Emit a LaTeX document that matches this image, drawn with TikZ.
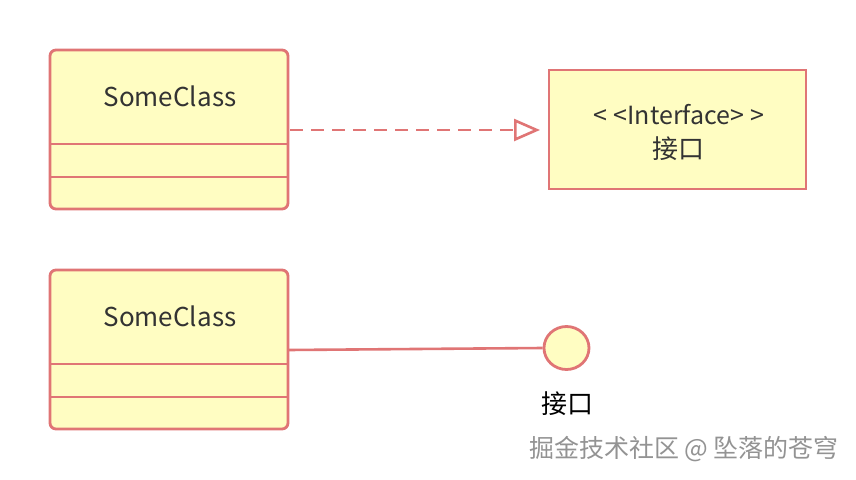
\documentclass[tikz,border=0pt]{standalone}
\usepackage{fontspec}
\setmainfont{Noto Sans CJK SC}
\usetikzlibrary{arrows.meta,shapes.geometric}
\definecolor{edge}{HTML}{E07575}
\definecolor{boxfill}{HTML}{FFFDC2}
\definecolor{txt}{HTML}{333333}
\begin{document}
\begin{tikzpicture}[x=1pt,y=-1pt,
  classbox/.style={draw=edge,fill=boxfill,line width=2.8pt,rounded corners=6pt},
  ifacebox/.style={draw=edge,fill=boxfill,line width=2.8pt},
  divider/.style={draw=edge,line width=2.6pt},
  conn/.style={draw=edge,line width=2.6pt},
  lbl/.style={font=\fontsize{26}{30}\selectfont,text=txt,inner sep=0pt}]
\useasboundingbox (0,0) rectangle (856,479);
\fill[white] (0,0) rectangle (856,479);
% class 1
\path[classbox] (50,50) rectangle (288,209);
\coordinate (c1l) at (50,144); \coordinate (c1r) at (288,144);
\coordinate (c1l2) at (50,177); \coordinate (c1r2) at (288,177);
\draw[divider] (c1l) -- (c1r);
\draw[divider] (c1l2) -- (c1r2);
\node[lbl] (n1) at (170,96) {SomeClass};
\coordinate (c1out) at (290,130);
% interface box
\node[ifacebox,minimum width=257pt,minimum height=119pt,inner sep=0pt] (iface) at (677.5,129.5) {};
\node[lbl,font=\fontsize{25}{30}\selectfont] (st) at (679,115) {\kern0pt<\kern6pt<Interface>\kern6pt>};
\node[lbl] (in) at (678,149) {接口};
\coordinate (tip) at (540,130);
\draw[conn,dash pattern=on 13pt off 8pt,-{Triangle[open,length=26pt,width=22pt,line width=2.6pt]}]
  (c1out) -- (tip);
% class 2
\path[classbox] (50,270) rectangle (288,429);
\coordinate (c2l) at (50,364); \coordinate (c2r) at (288,364);
\coordinate (c2l2) at (50,397); \coordinate (c2r2) at (288,397);
\draw[divider] (c2l) -- (c2r);
\draw[divider] (c2l2) -- (c2r2);
\node[lbl] (n2) at (170,316) {SomeClass};
\coordinate (c2out) at (288,350);
% lollipop
\node[draw=edge,fill=boxfill,line width=2.8pt,ellipse,minimum width=45pt,minimum height=43pt,inner sep=0pt] (lp) at (566.5,348) {};
\draw[conn] (c2out) -- (lp.west);
\node[lbl,text=black] (lpl) at (567,404) {接口};
% watermark
\node[font=\fontsize{25}{28}\selectfont,text=white,inner sep=0pt] (wm2) at (685.5,450.5) {掘金技术社区 @ 坠落的苍穹};
\node[font=\fontsize{25}{28}\selectfont,text=gray!85,inner sep=0pt] (wm) at (684,449) {掘金技术社区 @ 坠落的苍穹};
\end{tikzpicture}
\end{document}
